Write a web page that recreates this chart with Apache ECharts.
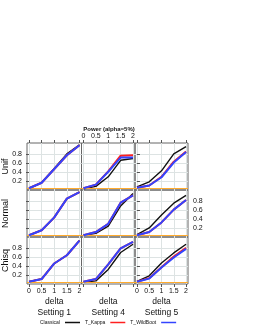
<!DOCTYPE html>
<html><head><meta charset="utf-8">
<script src="https://cdn.jsdelivr.net/npm/echarts@6/dist/echarts.min.js"></script>
<style>html,body{margin:0;padding:0;background:#fff}#c{width:255px;height:330px}</style>
</head><body><div id="c"></div>
<script>
// ---- data ----
const DELTA = [0, 0.5, 1, 1.5, 2];
const X_TICKS = [0, 0.5, 1, 1.5, 2];
const Y_TICKS = [0.2, 0.4, 0.6, 0.8];
const ALPHA = 0.05;
const DISTS = ['Unif', 'Normal', 'Chisq'];
const SETTINGS = ['Setting 1', 'Setting 4', 'Setting 5'];
const METHODS = ['Classical', 'T_Kappa', 'T_WildBoot'];
const TITLE = 'Power (alpha=5%)';
const X_NAME = 'delta';

const unif_s1_classical = [0.05, 0.17, 0.48, 0.80, 1.00];
const unif_s1_kappa     = [0.05, 0.17, 0.47, 0.77, 0.99];
const unif_s1_wild      = [0.05, 0.17, 0.47, 0.77, 0.99];
const unif_s4_classical = [0.04, 0.09, 0.30, 0.66, 0.70];
const unif_s4_kappa     = [0.05, 0.13, 0.42, 0.76, 0.77];
const unif_s4_wild      = [0.05, 0.13, 0.41, 0.72, 0.72];
const unif_s5_classical = [0.08, 0.19, 0.43, 0.80, 0.96];
const unif_s5_kappa     = [0.06, 0.11, 0.30, 0.63, 0.85];
const unif_s5_wild      = [0.06, 0.11, 0.29, 0.61, 0.84];

const normal_s1_classical = [0.05, 0.16, 0.44, 0.85, 0.99];
const normal_s1_kappa     = [0.05, 0.16, 0.44, 0.85, 0.99];
const normal_s1_wild      = [0.05, 0.16, 0.44, 0.85, 0.99];
const normal_s4_classical = [0.05, 0.09, 0.25, 0.69, 0.96];
const normal_s4_kappa     = [0.05, 0.12, 0.30, 0.76, 0.92];
const normal_s4_wild      = [0.05, 0.12, 0.30, 0.76, 0.92];
const normal_s5_classical = [0.065, 0.21, 0.49, 0.75, 0.92];
const normal_s5_kappa     = [0.05, 0.12, 0.33, 0.61, 0.82];
const normal_s5_wild      = [0.05, 0.12, 0.33, 0.61, 0.82];

const chisq_s1_classical = [0.06, 0.12, 0.46, 0.64, 0.96];
const chisq_s1_kappa     = [0.06, 0.12, 0.46, 0.64, 0.96];
const chisq_s1_wild      = [0.06, 0.12, 0.46, 0.64, 0.96];
const chisq_s4_classical = [0.05, 0.08, 0.33, 0.70, 0.88];
const chisq_s4_kappa     = [0.06, 0.12, 0.44, 0.79, 0.93];
const chisq_s4_wild      = [0.06, 0.12, 0.44, 0.79, 0.93];
const chisq_s5_classical = [0.07, 0.19, 0.47, 0.69, 0.88];
const chisq_s5_kappa     = [0.06, 0.14, 0.38, 0.61, 0.80];
const chisq_s5_wild      = [0.06, 0.13, 0.37, 0.59, 0.78];

const PANELS = [
  [[unif_s1_classical, unif_s1_kappa, unif_s1_wild],
   [unif_s4_classical, unif_s4_kappa, unif_s4_wild],
   [unif_s5_classical, unif_s5_kappa, unif_s5_wild]],
  [[normal_s1_classical, normal_s1_kappa, normal_s1_wild],
   [normal_s4_classical, normal_s4_kappa, normal_s4_wild],
   [normal_s5_classical, normal_s5_kappa, normal_s5_wild]],
  [[chisq_s1_classical, chisq_s1_kappa, chisq_s1_wild],
   [chisq_s4_classical, chisq_s4_kappa, chisq_s4_wild],
   [chisq_s5_classical, chisq_s5_kappa, chisq_s5_wild]]
];

// ---- layout / style ----
const COL_LEFT = [27, 81.5, 135];
const COL_W = [54.5, 53.5, 53];
const ROW_TOP = [143, 190, 237];
const ROW_H = 47;
const X_MIN = -0.08, X_MAX = 2.08;
const Y_MIN = 0.012, Y_MAX = 1.038;
const COLORS = ['#111111', '#ff2020', '#3344ff'];
const WIDTHS = [1.4, 2, 2];
const FONT = 'Liberation Sans, Arial, sans-serif';

const grids = [], xAxes = [], yAxes = [], series = [];
const tickStyle = {show: true, inside: false, length: 3, lineStyle: {color: '#555', width: 1}};
const labelBase = {fontSize: 7, color: '#111', fontFamily: FONT};

for (let r = 0; r < 3; r++) {
  for (let c = 0; c < 3; c++) {
    const g = grids.length;
    grids.push({left: COL_LEFT[c], top: ROW_TOP[r], width: COL_W[c], height: ROW_H,
      show: true, borderColor: '#666', borderWidth: 1, backgroundColor: 'transparent'});
    // bottom x
    xAxes.push({type: 'value', gridIndex: g, position: 'bottom', min: X_MIN, max: X_MAX,
      axisLine: {show: false},
      axisTick: Object.assign({}, tickStyle, {show: r === 2, customValues: X_TICKS}),
      axisLabel: Object.assign({}, labelBase, {show: r === 2 && c !== 1, customValues: X_TICKS, margin: 4}),
      splitLine: {show: true, lineStyle: {color: '#dde3e3', width: 1}},
      name: r === 2 ? X_NAME : '', nameLocation: 'middle', nameGap: 13,
      nameTextStyle: {fontSize: 8.5, color: '#111', fontFamily: FONT}});
    // top x
    xAxes.push({type: 'value', gridIndex: g, position: 'top', min: X_MIN, max: X_MAX,
      axisLine: {show: false},
      axisTick: Object.assign({}, tickStyle, {show: r === 0, customValues: X_TICKS}),
      axisLabel: Object.assign({}, labelBase, {show: r === 0 && c === 1, customValues: X_TICKS, margin: 3}),
      splitLine: {show: false}});
    // left y
    yAxes.push({type: 'value', gridIndex: g, position: 'left', min: Y_MIN, max: Y_MAX,
      axisLine: {show: false},
      axisTick: Object.assign({}, tickStyle, {show: c === 0, customValues: Y_TICKS}),
      axisLabel: Object.assign({}, labelBase, {show: c === 0 && r !== 1, customValues: Y_TICKS, margin: 5}),
      splitLine: {show: true, lineStyle: {color: '#dde3e3', width: 1}}});
    // right y
    yAxes.push({type: 'value', gridIndex: g, position: 'right', min: Y_MIN, max: Y_MAX,
      axisLine: {show: false},
      axisTick: Object.assign({}, tickStyle, {show: c === 2, customValues: Y_TICKS}),
      axisLabel: Object.assign({}, labelBase, {show: c === 2 && r === 1, customValues: Y_TICKS, margin: 5}),
      splitLine: {show: false}});

    PANELS[r][c].forEach((vals, m) => {
      const s = {
        type: 'line', name: METHODS[m], xAxisIndex: 2 * g, yAxisIndex: 2 * g,
        data: DELTA.map((d, i) => [d, vals[i]]),
        showSymbol: false, symbol: 'none', silent: true, z: 3 + m,
        lineStyle: {color: COLORS[m], width: WIDTHS[m]}, itemStyle: {color: COLORS[m]}
      };
      if (m === 0) {
        s.markLine = {silent: true, symbol: 'none', label: {show: false},
          lineStyle: {color: '#ffab2e', type: 'solid', width: 1.2},
          data: [{yAxis: ALPHA}]};
      }
      series.push(s);
    });
  }
}

const graphics = [];
DISTS.forEach((d, r) => {
  graphics.push({type: 'text', x: 6, y: ROW_TOP[r] + ROW_H / 2, rotation: Math.PI / 2,
    style: {text: d, fontSize: 9, fontFamily: FONT, fill: '#111', align: 'center', verticalAlign: 'middle'}});
});
SETTINGS.forEach((s, c) => {
  graphics.push({type: 'text', x: COL_LEFT[c] + COL_W[c] / 2, y: 313,
    style: {text: s, fontSize: 8.5, fontFamily: FONT, fill: '#111', align: 'center', verticalAlign: 'middle'}});
});

const chart = echarts.init(document.getElementById('c'), null, {renderer: 'canvas'});
chart.setOption({
  animation: false,
  backgroundColor: '#fff',
  title: {text: TITLE, left: 104, top: 121, textAlign: 'center',
    textStyle: {fontSize: 6, fontWeight: 'bold', color: '#111', fontFamily: FONT}},
  legend: {data: METHODS, left: 40, top: 320, align: 'right', icon: 'rect',
    itemWidth: 15, itemHeight: 1.5, itemGap: 5, padding: 0,
    textStyle: {fontSize: 5, color: '#111', fontFamily: FONT}},
  grid: grids, xAxis: xAxes, yAxis: yAxes, series: series, graphic: graphics
});
</script></body></html>
